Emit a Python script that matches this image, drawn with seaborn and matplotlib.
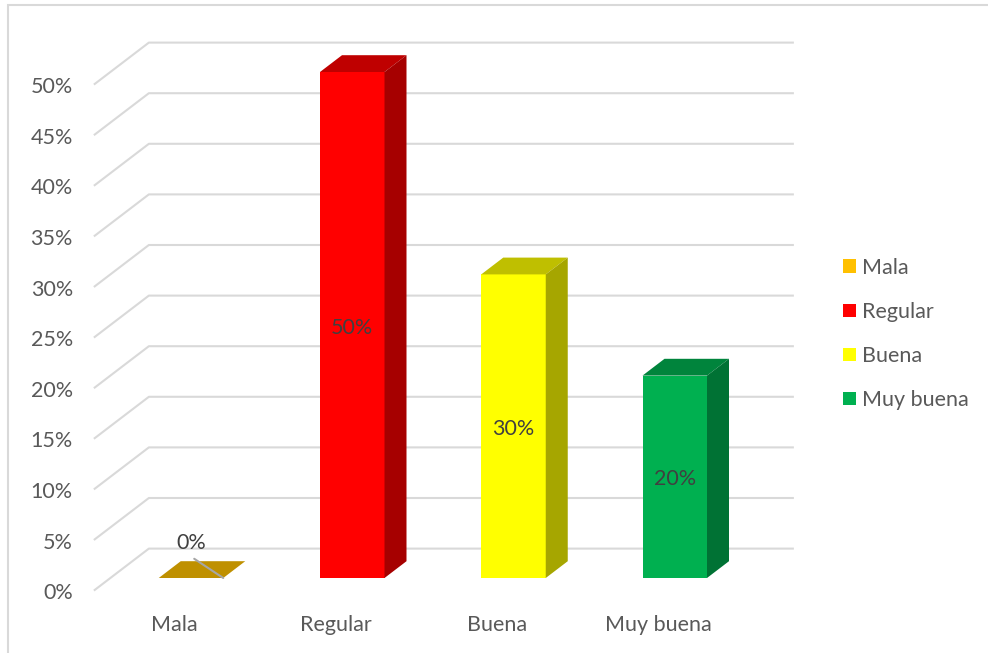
import matplotlib
matplotlib.use("Agg")
import matplotlib.pyplot as plt
from matplotlib.patches import Polygon, Patch, Rectangle
from matplotlib.colors import to_rgb
import seaborn as sns
import pandas as pd

# --- data ---
categories = ["Mala", "Regular", "Buena", "Muy buena"]
values = [0, 50, 30, 20]
colors = ["#FFC000", "#FF0000", "#FFFF00", "#00B050"]
y_ticks = [0, 5, 10, 15, 20, 25, 30, 35, 40, 45, 50]

text_color = "#595959"
label_color = "#404040"
grid_color = "#D9D9D9"
fs = 15.5

sns.set_theme(style="white")
plt.rcParams["font.family"] = ["Lato", "DejaVu Sans"]

W, H = 988, 653
fig = plt.figure(figsize=(W / 100, H / 100), dpi=100)
ax = fig.add_axes([0, 0, 1, 1])

df = pd.DataFrame({"cat": categories, "val": values})
sns.barplot(data=df, x="cat", y="val", hue="cat", palette=colors,
            width=0.4, legend=False, ax=ax, saturation=1,
            linewidth=0, zorder=3)

# pixel layout of the front plane of the bars
x0_px, x_unit = 191, 161.25      # first category centre, px per category
y0_px, y_unit = 578, 10.12       # 0 % baseline (from top), px per percent
ax.set_xlim(-x0_px / x_unit, (W - x0_px) / x_unit)
ax.set_ylim((y0_px - H) / y_unit, y0_px / y_unit)
ax.axis("off")

# small downward nudge so text sits optically centred
nudge = -0.25

# depth vector of the 3-D floor / walls (in data units)
DX, DY = 55 / x_unit, 42 / y_unit
front, back = -0.3, 0.7          # floor depth range relative to bar front plane
bar_depth = 0.4
n = len(categories)
left_edge, right_edge = -0.5, n - 0.5

# gridlines: diagonal on side wall, then across back wall
for v in y_ticks:
    xs = [left_edge + front * DX, left_edge + back * DX, right_edge + back * DX]
    ys = [v + front * DY, v + back * DY, v + back * DY]
    ax.plot(xs, ys, color=grid_color, lw=1.5, zorder=1, solid_capstyle="butt")
    ax.text(left_edge + front * DX - 0.13, v + front * DY + nudge, f"{v}%",
            ha="right", va="center", fontsize=fs, color=text_color)


def shade(c, f):
    r, g, b = to_rgb(c)
    return (r * f, g * f, b * f)


bw = 0.4
ddx, ddy = bar_depth * DX, bar_depth * DY
for i, (v, c) in enumerate(zip(values, colors)):
    xl, xr = i - bw / 2, i + bw / 2
    top = Polygon([(xl, v), (xr, v), (xr + ddx, v + ddy), (xl + ddx, v + ddy)],
                  closed=True, facecolor=shade(c, 0.75), edgecolor="none", zorder=4)
    ax.add_patch(top)
    if v > 0:
        side = Polygon([(xr, 0), (xr + ddx, ddy), (xr + ddx, v + ddy), (xr, v)],
                       closed=True, facecolor=shade(c, 0.65), edgecolor="none", zorder=4)
        ax.add_patch(side)
        ax.text(i, v / 2 + nudge, f"{v}%", ha="center", va="center",
                fontsize=fs, color=label_color, zorder=5)
    else:
        # label lifted above the flat bar with a leader line
        ax.plot([xr, i + 0.02], [v, v + 1.9], color="#A6A6A6", lw=1.5, zorder=5)
        ax.text(i, v + 3.75 + nudge, f"{v}%", ha="center", va="center",
                fontsize=fs, color=label_color, zorder=5)

# category labels on the floor front edge
for i, cat in enumerate(categories):
    ax.text(i + front * DX, (y0_px - 622) / y_unit + nudge, cat, ha="center",
            va="center", fontsize=fs, color=text_color)

handles = [Patch(facecolor=c, edgecolor="none", label=cat)
           for cat, c in zip(categories, colors)]
fig.legend(handles=handles, loc="center left",
           bbox_to_anchor=(843 / W, 1 - 334 / H), frameon=False,
           fontsize=fs, handlelength=0.6, handleheight=0.6,
           handletextpad=0.3, labelspacing=1.12, borderpad=0,
           borderaxespad=0, labelcolor=text_color)

# chart border
fig.add_artist(Rectangle((8 / W, -0.05), 1.2, 1 - 5 / H + 0.05,
                         transform=fig.transFigure, fill=False,
                         edgecolor=grid_color, lw=1.5))

fig.savefig("out.png", dpi=100, facecolor="white")
